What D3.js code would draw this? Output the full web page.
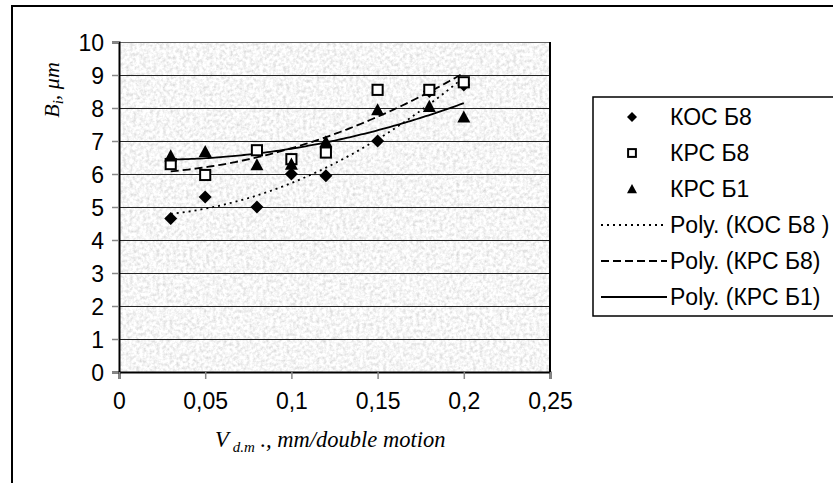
<!DOCTYPE html>
<html>
<head>
<meta charset="utf-8">
<script src="https://cdn.jsdelivr.net/npm/d3@7"></script>
<style>
  body { margin: 0; background: #fff; }
  svg { display: block; }
  .tick-label { font-family: Arial, "Liberation Sans", sans-serif; font-size: 23px; fill: #000; }
  .legend text { font-family: Arial, "Liberation Sans", sans-serif; font-size: 23px; fill: #000; }
  .axis-title { font-family: "Times New Roman", "Liberation Serif", serif; font-style: italic; fill: #000; }
</style>
</head>
<body>
<svg id="chart" width="833" height="483"></svg>
<script>
const speeds = [0.03, 0.05, 0.08, 0.1, 0.12, 0.15, 0.18, 0.2];
const kocB8 = [4.65, 5.3, 5.0, 6.0, 5.95, 7.0, 8.5, 8.7];
const krcB8 = [6.3, 5.97, 6.72, 6.45, 6.65, 8.55, 8.55, 8.78];
const krcB1 = [6.55, 6.68, 6.28, 6.3, 6.98, 7.95, 8.05, 7.73];
const xTicks = [0, 0.05, 0.1, 0.15, 0.2, 0.25];
const yTicks = [0, 1, 2, 3, 4, 5, 6, 7, 8, 9, 10];
const legendLabels = ["КОС Б8", "КРС Б8", "КРС Б1", "Poly. (КОС Б8 )", "Poly. (КРС Б8)", "Poly. (КРС Б1)"];

const series = [
  { name: "КОС Б8", values: kocB8, marker: "diamond", dash: "2,4" },
  { name: "КРС Б8", values: krcB8, marker: "square", dash: "8,4" },
  { name: "КРС Б1", values: krcB1, marker: "triangle", dash: null }
];

// least squares, 2nd order (Excel "Poly." trendline)
function polyfit(xs, ys) {
  const s = [0, 0, 0, 0, 0], t = [0, 0, 0];
  xs.forEach((x, i) => {
    for (let k = 0; k < 5; k++) s[k] += Math.pow(x, k);
    for (let k = 0; k < 3; k++) t[k] += Math.pow(x, k) * ys[i];
  });
  const m = [[s[0], s[1], s[2], t[0]], [s[1], s[2], s[3], t[1]], [s[2], s[3], s[4], t[2]]];
  for (let c = 0; c < 3; c++) {
    for (let r = c + 1; r < 3; r++) {
      const f = m[r][c] / m[c][c];
      for (let k = c; k < 4; k++) m[r][k] -= f * m[c][k];
    }
  }
  const a = [0, 0, 0];
  for (let r = 2; r >= 0; r--) {
    let v = m[r][3];
    for (let k = r + 1; k < 3; k++) v -= m[r][k] * a[k];
    a[r] = v / m[r][r];
  }
  return x => a[0] + a[1] * x + a[2] * x * x;
}

const svg = d3.select('#chart');
const plot = { left: 119, top: 42, right: 550, bottom: 372 };

const x = d3.scaleLinear().domain([0, 0.25]).range([plot.left, plot.right]);
const y = d3.scaleLinear().domain([0, 10]).range([plot.bottom, plot.top]);

// outer frame
svg.append('rect')
  .attr('x', 12).attr('y', 6).attr('width', 900).attr('height', 600)
  .attr('fill', 'none').attr('stroke', '#000').attr('stroke-width', 2);

// granite-like background
const defs = svg.append('defs');
const filt = defs.append('filter').attr('id', 'granite')
  .attr('filterUnits', 'userSpaceOnUse')
  .attr('x', plot.left).attr('y', plot.top)
  .attr('width', plot.right - plot.left).attr('height', plot.bottom - plot.top);
filt.append('feTurbulence')
  .attr('type', 'fractalNoise').attr('baseFrequency', 0.3)
  .attr('numOctaves', 3).attr('seed', 4).attr('result', 'noise');
filt.append('feColorMatrix').attr('in', 'noise').attr('type', 'matrix')
  .attr('values', '0.6 0 0 0 0.62  0.6 0 0 0 0.62  0.6 0 0 0 0.62  0 0 0 0 1');

svg.append('rect')
  .attr('x', plot.left).attr('y', plot.top)
  .attr('width', plot.right - plot.left).attr('height', plot.bottom - plot.top)
  .attr('fill', '#e6e6e6')
  .attr('filter', 'url(#granite)');

// grid
svg.append('g').selectAll('line')
  .data(yTicks.filter(d => d > 0 && d < 10))
  .join('line')
    .attr('x1', plot.left).attr('x2', plot.right)
    .attr('y1', d => Math.round(y(d)) + 0.5).attr('y2', d => Math.round(y(d)) + 0.5)
    .attr('stroke', '#222').attr('stroke-width', 1);

// plot border
svg.append('line')
  .attr('x1', plot.left).attr('x2', plot.right)
  .attr('y1', plot.top + 0.5).attr('y2', plot.top + 0.5)
  .attr('stroke', '#666').attr('stroke-width', 1);
svg.append('line')
  .attr('x1', plot.right).attr('x2', plot.right)
  .attr('y1', plot.top).attr('y2', plot.bottom)
  .attr('stroke', '#000').attr('stroke-width', 2);

// axes
const yAxis = svg.append('g')
  .attr('transform', `translate(${plot.left},0)`)
  .call(d3.axisLeft(y).tickValues(yTicks).tickSize(7).tickPadding(8).tickFormat(d3.format('d')));
const xAxis = svg.append('g')
  .attr('transform', `translate(0,${plot.bottom})`)
  .call(d3.axisBottom(x).tickValues(xTicks).tickSize(7).tickPadding(14)
    .tickFormat(d => d === 0 ? '0' : String(d).replace('.', ',')));

[yAxis, xAxis].forEach(g => {
  g.attr('font-family', null).attr('font-size', null);
  g.select('.domain').attr('stroke', '#000').attr('stroke-width', 2);
  g.selectAll('.tick line').attr('stroke', '#888').attr('stroke-width', 1.5);
  g.selectAll('.tick text').attr('class', 'tick-label');
});
yAxis.selectAll('.tick text').attr('dy', '0.36em');
xAxis.selectAll('.tick text').attr('dy', '0.71em');

// trendlines
const fitDomain = d3.range(0, 101).map(i => 0.03 + (0.2 - 0.03) * i / 100);
series.forEach(s => {
  const f = polyfit(speeds, s.values);
  svg.append('path')
    .datum(fitDomain)
    .attr('fill', 'none').attr('stroke', '#000').attr('stroke-width', 1.8)
    .attr('stroke-dasharray', s.dash)
    .attr('d', d3.line().x(d => x(d)).y(d => y(f(d))));
});

// markers
function marker(sel, type, size) {
  if (type === 'diamond') {
    sel.append('path').attr('d', `M0,${-size}L${size},0L0,${size}L${-size},0Z`).attr('fill', '#000');
  } else if (type === 'square') {
    const h = size * 0.78;
    sel.append('rect').attr('x', -h).attr('y', -h).attr('width', 2 * h).attr('height', 2 * h)
      .attr('fill', '#fff').attr('stroke', '#000').attr('stroke-width', 2);
  } else {
    sel.append('path').attr('d', `M0,${-size}L${size},${size * 0.85}L${-size},${size * 0.85}Z`).attr('fill', '#000');
  }
}

series.forEach(s => {
  svg.append('g').selectAll('g')
    .data(speeds.map((v, i) => [v, s.values[i]]))
    .join('g')
      .attr('transform', d => `translate(${x(d[0])},${y(d[1])})`)
      .each(function() { marker(d3.select(this), s.marker, 6.5); });
});

// legend
const legend = svg.append('g').attr('class', 'legend');
legend.append('rect')
  .attr('x', 593).attr('y', 97).attr('width', 300).attr('height', 219)
  .attr('fill', '#fff').attr('stroke', '#000').attr('stroke-width', 1.5);
const rowY = d3.scaleLinear().domain([0, 5]).range([117, 297]);
legendLabels.forEach((label, i) => {
  const g = legend.append('g').attr('transform', `translate(0,${rowY(i)})`);
  if (i < 3) {
    const mg = g.append('g').attr('transform', 'translate(632,0)');
    marker(mg, series[i].marker, 5);
  } else {
    g.append('line').attr('x1', 601).attr('x2', 667).attr('y1', 0).attr('y2', 0)
      .attr('stroke', '#000').attr('stroke-width', 1.8)
      .attr('stroke-dasharray', series[i - 3].dash);
  }
  g.append('text').attr('x', 670).attr('y', 8).text(label);
});

// axis titles
const yt = svg.append('text').attr('class', 'axis-title')
  .attr('transform', 'translate(59,90) rotate(-90)')
  .attr('text-anchor', 'middle').attr('font-size', 22);
yt.append('tspan').text('B');
yt.append('tspan').attr('font-size', 15).attr('dy', 4).text('i');
yt.append('tspan').attr('dy', -4).text(', μm');

const xt = svg.append('text').attr('class', 'axis-title')
  .attr('x', 215).attr('y', 447).attr('font-size', 22.5);
xt.append('tspan').text('V');
xt.append('tspan').attr('font-size', 15).attr('dx', 4).attr('dy', 5).text('d.m');
xt.append('tspan').attr('dy', -5).text(' ., mm/double motion');
</script>
</body>
</html>
